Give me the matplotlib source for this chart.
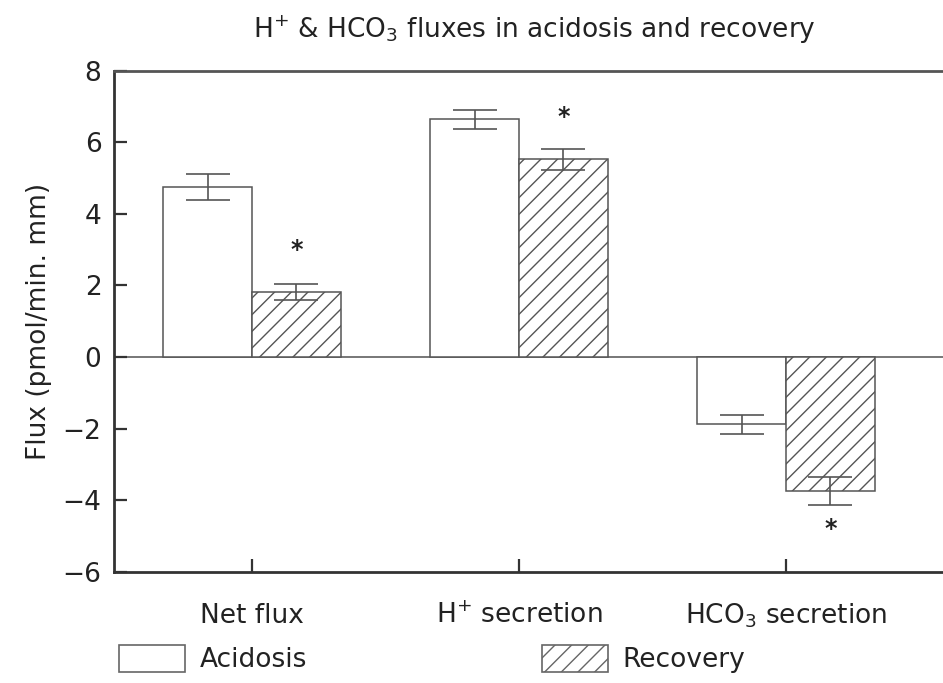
import numpy as np
import matplotlib
matplotlib.use("Agg")
import matplotlib.pyplot as plt
from matplotlib.patches import Patch

# data
groups = ["Net flux", "H$^{+}$ secretion", "HCO$_3$ secretion"]
acidosis = [4.76, 6.64, -1.88]
acidosis_err = [0.36, 0.26, 0.26]
recovery = [1.81, 5.52, -3.74]
recovery_err = [0.23, 0.29, 0.40]
star_y = [3.0, 6.72, -4.8]   # significance markers over recovery bars

plt.rcParams['font.family'] = ['DejaVu Sans']
plt.rcParams['mathtext.default'] = 'regular'
plt.rcParams['hatch.color'] = '#666666'
plt.rcParams['hatch.linewidth'] = 1.0

fs = 19
edge = '#555555'
dark = '#333333'

fig = plt.figure(figsize=(9.43, 6.83), dpi=100)
ax = fig.add_axes([114 / 943, 1 - 571.7 / 683, 1 - 114 / 943, (571.7 - 70.7) / 683])

x = np.arange(len(groups))
w = 0.333

ax.axhline(0, color='#777777', lw=1.4, zorder=1)
ax.bar(x - w / 2, acidosis, w, facecolor='white', edgecolor=edge, lw=1.1, zorder=2)
ax.bar(x + w / 2, recovery, w, facecolor='white', edgecolor=edge, lw=1.1,
       hatch='//', zorder=2)
ax.errorbar(x - w / 2, acidosis, yerr=acidosis_err, fmt='none', ecolor=edge,
            elinewidth=1.2, capsize=16, capthick=1.2, zorder=3)
ax.errorbar(x + w / 2, recovery, yerr=recovery_err, fmt='none', ecolor=edge,
            elinewidth=1.2, capsize=16, capthick=1.2, zorder=3)

for xi, yi in zip(x, star_y):
    ax.text(xi + w / 2, yi, '*', ha='center', va='center', fontsize=17,
            fontweight='bold', color='#222222')

ax.set_xlim(-0.517, 2.588)
ax.set_ylim(-6, 8)
ax.set_yticks(range(-6, 9, 2))
ax.set_yticklabels(['\u22126', '\u22124', '\u22122', '0', '2', '4', '6', '8'])
ax.set_xticks(x)
ax.set_xticklabels(groups, va='baseline')

ax.tick_params(axis='both', direction='in', length=9.5, width=1.6, color=dark,
               labelsize=fs, labelcolor='#222222')
ax.tick_params(axis='x', pad=37)
ax.tick_params(axis='y', pad=9)

for s in ['left', 'bottom']:
    ax.spines[s].set_linewidth(2.0)
    ax.spines[s].set_color(dark)
ax.spines['top'].set_linewidth(2.0)
ax.spines['top'].set_color('#555555')
ax.spines['right'].set_visible(False)

ax.set_ylabel('Flux (pmol/min. mm)', fontsize=fs, color='#222222', labelpad=8)

fig.text(534 / 943, 1 - 38 / 683, 'H$^{+}$ & HCO$_3$ fluxes in acidosis and recovery',
         ha='center', va='baseline', fontsize=fs, color='#222222')

handles = [Patch(facecolor='white', edgecolor='#666666', lw=1.2, label='Acidosis'),
           Patch(facecolor='white', edgecolor='#666666', lw=1.2, hatch='//', label='Recovery')]
fig.legend(handles=handles, loc='upper left', bbox_to_anchor=(119 / 943, 1 - 645 / 683),
           ncol=2, frameon=False, fontsize=fs, borderpad=0, borderaxespad=0,
           handlelength=2.5, handleheight=1.17, handletextpad=0.55, columnspacing=8.9,
           labelcolor='#222222')

fig.savefig('out.png', dpi=100, facecolor='white')
